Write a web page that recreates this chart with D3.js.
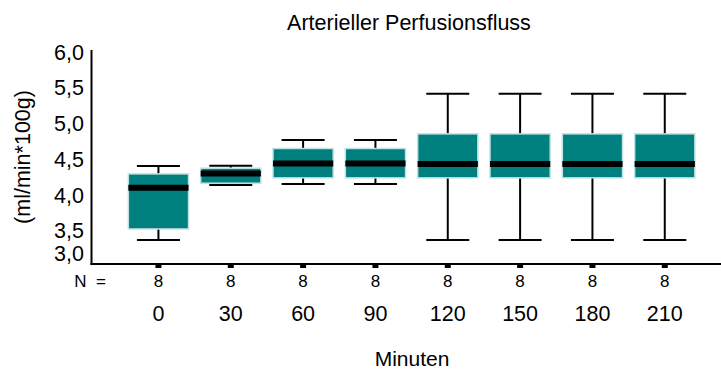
<!DOCTYPE html>
<html><head><meta charset="utf-8">
<script src="https://cdn.jsdelivr.net/npm/d3@7"></script>
<style>body{margin:0;background:#fff}svg{display:block}text{font-family:"Liberation Sans",Arial,sans-serif;fill:#000}</style>
</head><body>
<svg id="chart" width="721" height="370"></svg>
<script>
const categories = ["0","30","60","90","120","150","180","210"];
const nValues = [8,8,8,8,8,8,8,8];
const whiskerLow = [3.37,4.14,4.155,4.155,3.37,3.37,3.37,3.37];
const q1 = [3.525,4.165,4.24,4.24,4.24,4.24,4.24,4.24];
const median = [4.10,4.30,4.44,4.44,4.435,4.435,4.435,4.435];
const q3 = [4.295,4.375,4.65,4.65,4.855,4.855,4.855,4.855];
const whiskerHigh = [4.407,4.41,4.77,4.77,5.415,5.415,5.415,5.415];
const yTicks = [3.0,3.5,4.0,4.5,5.0,5.5,6.0];
const title = "Arterieller Perfusionsfluss";
const yLabel = "(ml/min*100g)";
const xLabel = "Minuten";

const svg = d3.select("#chart");
const axisY = 264, axisX = 91.5;
const y = d3.scaleLinear().domain([3.035, 6.0]).range([axisY, 52]);
const x = d3.scaleBand().domain(categories).range([117.2, 706]).padding(0.14);
const fmt = v => d3.format(".1f")(v).replace(".", ",");

svg.append("text").attr("x", 409).attr("y", 29.5).attr("text-anchor","middle").attr("font-size", 21.5).text(title);
svg.append("text").attr("transform","translate(30,157) rotate(-90)").attr("text-anchor","middle").attr("font-size", 21.5).text(yLabel);
svg.append("text").attr("x", 412).attr("y", 365.5).attr("text-anchor","middle").attr("font-size", 21).text(xLabel);

// y axis
svg.append("line").attr("x1", axisX).attr("x2", axisX).attr("y1", y(6.0) - 2).attr("y2", axisY + 1).attr("stroke","#000").attr("stroke-width", 2);
svg.selectAll(".yt").data(yTicks).enter().append("text")
  .attr("x", 84).attr("y", d => Math.min(y(d), axisY - 11)).attr("dy","0.35em")
  .attr("text-anchor","end").attr("font-size", 21.5).text(fmt);

// x axis
svg.append("line").attr("x1", axisX - 1).attr("x2", 721).attr("y1", axisY).attr("y2", axisY).attr("stroke","#000").attr("stroke-width", 2);
svg.selectAll(".xt").data(categories).enter().append("rect")
  .attr("x", d => x(d) + x.bandwidth()/2 - 3).attr("y", axisY).attr("width", 6).attr("height", 4).attr("fill","#000");
svg.append("text").attr("x", 90).attr("y", 281).attr("dy","0.35em").attr("text-anchor","middle").attr("font-size", 17).attr("xml:space","preserve").text("N  =");
svg.selectAll(".nt").data(categories).enter().append("text")
  .attr("x", d => x(d) + x.bandwidth()/2).attr("y", 281).attr("dy","0.35em")
  .attr("text-anchor","middle").attr("font-size", 17).text((d,i) => nValues[i]);
svg.selectAll(".ct").data(categories).enter().append("text")
  .attr("x", d => x(d) + x.bandwidth()/2).attr("y", 313).attr("dy","0.35em")
  .attr("text-anchor","middle").attr("font-size", 21.5).text(d => d);

// boxes
const g = svg.selectAll(".box").data(categories).enter().append("g");
const cx = d => x(d) + x.bandwidth()/2;
const capW = 43;
g.append("line").attr("x1", cx).attr("x2", cx).attr("y1", (d,i) => y(whiskerHigh[i])).attr("y2", (d,i) => y(q3[i])).attr("stroke","#000").attr("stroke-width",2);
g.append("line").attr("x1", cx).attr("x2", cx).attr("y1", (d,i) => y(q1[i])).attr("y2", (d,i) => y(whiskerLow[i])).attr("stroke","#000").attr("stroke-width",2);
g.append("line").attr("x1", d => cx(d) - capW/2).attr("x2", d => cx(d) + capW/2).attr("y1", (d,i) => y(whiskerHigh[i])).attr("y2", (d,i) => y(whiskerHigh[i])).attr("stroke","#000").attr("stroke-width",2);
g.append("line").attr("x1", d => cx(d) - capW/2).attr("x2", d => cx(d) + capW/2).attr("y1", (d,i) => y(whiskerLow[i])).attr("y2", (d,i) => y(whiskerLow[i])).attr("stroke","#000").attr("stroke-width",2);
g.append("rect").attr("x", d => x(d) + 1).attr("width", x.bandwidth() - 2)
  .attr("y", (d,i) => y(q3[i])).attr("height", (d,i) => y(q1[i]) - y(q3[i]))
  .attr("fill","#007f7f").attr("stroke","#bfe2e2").attr("stroke-width",1.5);
g.append("line").attr("x1", d => x(d) + 1).attr("x2", d => x(d) + x.bandwidth() - 1)
  .attr("y1", (d,i) => y(median[i])).attr("y2", (d,i) => y(median[i])).attr("stroke","#000").attr("stroke-width",6);
</script>
</body></html>
